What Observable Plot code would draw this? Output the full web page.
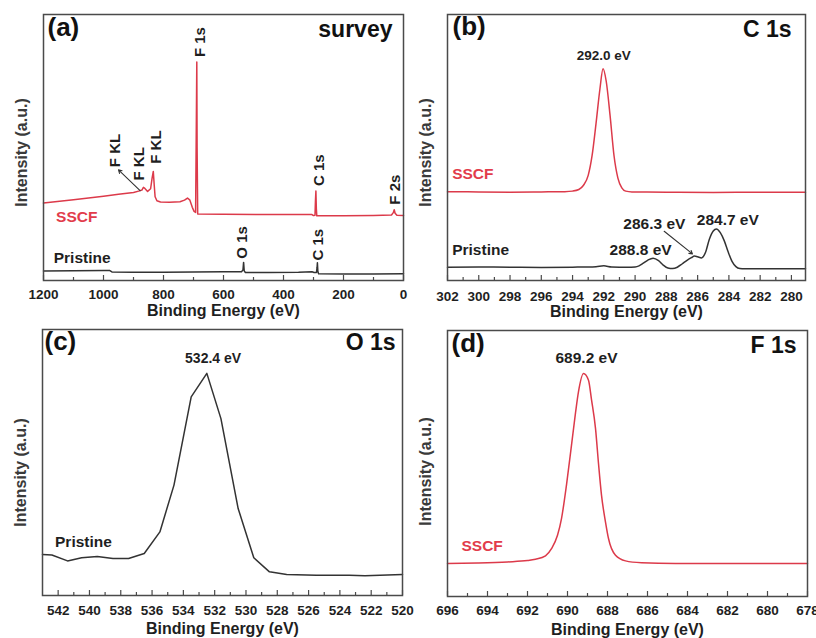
<!DOCTYPE html>
<html>
<head>
<meta charset="utf-8">
<script src="https://cdn.jsdelivr.net/npm/d3@7"></script>
<script src="https://cdn.jsdelivr.net/npm/@observablehq/plot@0.6"></script>
<style>
  html, body { margin: 0; padding: 0; background: #fff; }
  #wrap { position: relative; width: 816px; height: 638px; overflow: hidden; background: #fff; }
  #wrap svg { position: absolute; }
</style>
</head>
<body>
<div id="wrap"></div>
<script>
// ---------- DATA (binding energy eV, relative intensity 0-100 of panel height) ----------
// (a) survey
const surveySSCF = [[1200,29.1],[1100,30.4],[1000,31.7],[950,32.4],[900,33.1],[880,33.7],[872,34.0],[867,35.0],[862,34.6],[853,33.5],[843,34.5],[838,38.5],[834,41.0],[831,36.0],[828,31.5],[822,30.0],[810,29.5],[780,29.4],[745,29.6],[730,30.2],[720,31.0],[712,30.2],[704,27.5],[698,26.0],[693,25.6],[690.5,60],[689,82.1],[688,50],[686,25.0],[600,24.9],[400,24.8],[305,24.8],[300,24.4],[295,24.5],[293.5,30],[292,33.6],[290.5,27],[289,24.3],[200,24.3],[100,24.4],[40,24.6],[34,25.5],[31,26.6],[28,25.3],[22,24.5],[0,24.4]];
const surveyPristine = [[1200,3.6],[1100,3.7],[1000,3.8],[980,3.8],[972,3.2],[900,3.1],[800,3.1],[700,3.2],[600,3.3],[540,3.3],[535,4.0],[533,6.8],[531,3.6],[527,3.0],[450,3.0],[350,3.1],[305,3.3],[298,3.0],[290,3.0],[288,5.0],[287,6.7],[285.5,3.5],[283,2.5],[200,2.4],[100,2.4],[0,2.5]];
const surveyMajor = [1200,1000,800,600,400,200,0];
const surveyMinor = [1100,900,700,500,300,100];
const surveyPeakLabels = [
  {e:689, y:84, t:"F 1s", dx:3},
  {e:292, y:35.5, t:"C 1s", dx:3},
  {e:31, y:28.5, t:"F 2s", dx:1},
  {e:533, y:8.2, t:"O 1s", dx:-1},
  {e:287, y:7.5, t:"C 1s", dx:1},
  {e:960, y:42.6, t:"F KL", dx:0},
  {e:880, y:37.6, t:"F KL", dx:0},
  {e:824, y:43.9, t:"F KL", dx:0}
];
const surveyArrow = [{e1:878, y1:33.8, e2:950, y2:41.6}];

// (b) C 1s
const c1sSSCF = [[302,33.4],[300,33.3],[298,33.2],[296,33.3],[294.5,33.4],[294,33.6],[293.6,34.2],[293.3,35.8],[293.0,39.5],[292.75,47],[292.5,59],[292.25,72],[292.05,79.6],[291.85,75],[291.6,62],[291.35,47],[291.1,38.5],[290.85,34.8],[290.6,33.6],[290.2,33.3],[288,33.2],[285,33.1],[282,33.2],[279.1,33.2]];
const c1sPristine = [[302,5.0],[300,5.1],[298,5.0],[296,4.9],[294,5.0],[292.5,5.2],[292.0,5.5],[291.5,5.1],[290.5,5.0],[290.0,5.1],[289.75,5.5],[289.5,6.4],[289.2,7.6],[288.85,8.4],[288.5,7.5],[288.2,5.8],[287.9,4.7],[287.6,4.5],[287.3,5.0],[287.0,6.2],[286.7,7.5],[286.4,8.6],[286.2,9.2],[286.0,8.9],[285.75,8.5],[285.5,10.5],[285.25,15.5],[285.0,18.6],[284.8,19.4],[284.55,18.0],[284.3,15.0],[284.05,10.8],[283.8,7.2],[283.55,5.2],[283.3,4.5],[283.0,4.4],[281,4.4],[279.1,4.4]];
const c1sMajor = [302,300,298,296,294,292,290,288,286,284,282,280];
const c1sMinor = [301,299,297,295,293,291,289,287,285,283,281];
const c1sPeakLabels = [
  {e:292.0, y:84.6, t:"292.0 eV", fs:13.5},
  {e:289.65, y:11.3, t:"288.8 eV", fs:15.5},
  {e:288.77, y:21.3, t:"286.3 eV", fs:15.5},
  {e:284.07, y:22.6, t:"284.7 eV", fs:15.5}
];
const c1sArrow = [{e1:288.14, y1:18.5, e2:286.33, y2:10.0}];

// (c) O 1s
const o1sPristine = [[543.0,15.4],[542.4,15.2],[541.4,13.0],[540.5,14.2],[539.5,14.7],[538.5,13.9],[537.5,13.9],[536.5,15.8],[535.5,23.9],[534.6,41.5],[533.5,74.7],[532.5,83.5],[531.6,66.5],[530.5,32.7],[529.5,14.2],[528.5,8.9],[527.4,7.9],[525.5,7.6],[523.4,7.6],[522.4,7.4],[520,7.9]];
const o1sMajor = [542,540,538,536,534,532,530,528,526,524,522,520];
const o1sMinor = [541,539,537,535,533,531,529,527,525,523,521];
const o1sPeakLabels = [{e:532.1, y:89.1, t:"532.4 eV", fs:14}];

// (d) F 1s
const f1sSSCF = [[696,12.4],[694.5,12.6],[693,13.0],[692,13.5],[691.6,14.0],[691.1,15.3],[690.8,18.0],[690.5,23],[690.3,29.3],[690.05,42],[689.8,56.9],[689.6,69],[689.45,77.0],[689.2,83.8],[688.95,81.3],[688.8,74],[688.6,63.2],[688.45,50],[688.3,38.1],[688.1,28],[687.95,21.8],[687.6,15.5],[687.1,13.4],[686.3,12.7],[684.6,12.4],[678,12.4]];
const f1sMajor = [696,694,692,690,688,686,684,682,680,678];
const f1sMinor = [695,693,691,689,687,685,683,681,679];
const f1sPeakLabels = [{e:689.05, y:89.8, t:"689.2 eV", fs:15.5}];

// ---------- STYLE ----------
const FONT = "'Liberation Sans', Arial, Helvetica, sans-serif";
const RED = "#dc3a4a", BLACK = "#333333", FRAME = "#4a4a4a", TEXT = "#1f1f1f", RED_TEXT = "#e23c4b";

const wrap = document.getElementById("wrap");

function makePanel(c) {
  const plotH = c.height - c.mT - c.mB;
  const bold = {fontWeight: "bold", fontFamily: FONT};
  const marks = [
    Plot.tickX(c.minor, {x: d => d, stroke: FRAME, strokeWidth: 1.2, insetTop: plotH - 3}),
    Plot.tickX(c.major, {x: d => d, stroke: FRAME, strokeWidth: 1.2, insetTop: plotH - 5}),
    ...c.lines.map(([data, color]) => Plot.line(data, {x: d => d[0], y: d => d[1], stroke: color, strokeWidth: 1.5, curve: c.curve})),
    Plot.frame({stroke: FRAME, strokeWidth: 1.5}),
    Plot.text(c.major, {x: d => d, frameAnchor: "bottom", lineAnchor: "middle", dy: c.tickDy, text: d => String(d), fontSize: 13.5, fill: TEXT, ...bold}),
    Plot.text(["Binding Energy (eV)"], {frameAnchor: "bottom", lineAnchor: "middle", dy: c.titleDy, text: d => d, fontSize: 16, fill: TEXT, ...bold}),
    Plot.text(["Intensity (a.u.)"], {frameAnchor: "left", rotate: -90, textAnchor: "middle", lineAnchor: "middle", dx: -22, dy: c.ylabDy, text: d => d, fontSize: 16, fill: "#3a3a3a", ...bold}),
    Plot.text([c.letter], {frameAnchor: "top-left", textAnchor: "start", lineAnchor: "top", dx: c.letterDx, dy: c.letterDy, text: d => d, fontSize: 26, fill: "#111", ...bold}),
    Plot.text([c.name], {frameAnchor: "top-right", textAnchor: "end", lineAnchor: "top", dx: c.nameDx, dy: c.nameDy, text: d => d, fontSize: 23, fill: "#111", ...bold}),
    Plot.text(c.samples, {x: "e", y: "y", text: "t", fill: "c", textAnchor: "start", lineAnchor: "middle", fontSize: 15.5, ...bold})
  ];
  if (c.peaks) marks.push(Plot.text(c.peaks, {x: "e", y: "y", text: "t", fontSize: d => d.fs, textAnchor: "middle", lineAnchor: "middle", fill: TEXT, ...bold}));
  if (c.rotPeaks) marks.push(...c.rotPeaks.map(p => Plot.text([p], {x: "e", y: "y", text: "t", rotate: -90, textAnchor: "start", lineAnchor: "middle", dx: p.dx, fontSize: 15, fill: TEXT, ...bold})));
  if (c.arrows) marks.push(Plot.arrow(c.arrows, {x1: "e1", y1: "y1", x2: "e2", y2: "y2", stroke: "#333", strokeWidth: 1.1, headLength: 5}));
  const svg = Plot.plot({
    width: c.width, height: c.height,
    marginLeft: c.mL, marginRight: c.mR, marginTop: c.mT, marginBottom: c.mB,
    x: {domain: c.domain, axis: null},
    y: {domain: [0, 100], axis: null},
    style: {background: "transparent", overflow: c.overflow || "hidden", fontFamily: FONT},
    marks
  });
  svg.style.left = c.left + "px";
  svg.style.top = c.top + "px";
  wrap.appendChild(svg);
}

makePanel({
  left: 0, top: 0, width: 410, height: 320, mL: 43, mR: 7, mT: 14, mB: 40,
  domain: [1200, 0], major: surveyMajor, minor: surveyMinor, curve: "linear",
  lines: [[surveyPristine, BLACK], [surveySSCF, RED]],
  tickDy: 14, titleDy: 30, ylabDy: 5,
  letter: "(a)", letterDx: 4, letterDy: 3, name: "survey", nameDx: -11, nameDy: 6,
  samples: [{e: 1158, y: 23.8, t: "SSCF", c: RED_TEXT}, {e: 1166, y: 8.5, t: "Pristine", c: TEXT}],
  rotPeaks: surveyPeakLabels, arrows: surveyArrow
});

makePanel({
  left: 408, top: 0, width: 408, height: 320, mL: 39, mR: 11, mT: 14, mB: 40,
  domain: [302, 279.1], major: c1sMajor, minor: c1sMinor, curve: "monotone-x",
  lines: [[c1sPristine, BLACK], [c1sSSCF, RED]], overflow: "visible",
  tickDy: 16, titleDy: 31.5, ylabDy: 5,
  letter: "(b)", letterDx: 5, letterDy: 2, name: "C 1s", nameDx: -14, nameDy: 6,
  samples: [{e: 301.7, y: 40.1, t: "SSCF", c: RED_TEXT}, {e: 301.7, y: 11.3, t: "Pristine", c: TEXT}],
  peaks: c1sPeakLabels, arrows: c1sArrow
});

makePanel({
  left: 0, top: 318, width: 410, height: 320, mL: 42, mR: 8, mT: 11, mB: 43,
  domain: [543, 520], major: o1sMajor, minor: o1sMinor, curve: "linear",
  lines: [[o1sPristine, BLACK]], overflow: "visible",
  tickDy: 15, titleDy: 33, ylabDy: 10,
  letter: "(c)", letterDx: 2, letterDy: 2, name: "O 1s", nameDx: -7, nameDy: 4.5,
  samples: [{e: 542.2, y: 20.2, t: "Pristine", c: TEXT}],
  peaks: o1sPeakLabels
});

makePanel({
  left: 408, top: 318, width: 408, height: 320, mL: 39, mR: 9, mT: 12, mB: 42,
  domain: [696, 678], major: f1sMajor, minor: f1sMinor, curve: "monotone-x",
  lines: [[f1sSSCF, RED]],
  tickDy: 14, titleDy: 33, ylabDy: 8,
  letter: "(d)", letterDx: 4, letterDy: 3, name: "F 1s", nameDx: -11, nameDy: 6,
  samples: [{e: 695.3, y: 19.0, t: "SSCF", c: RED_TEXT}],
  peaks: f1sPeakLabels
});
</script>
</body>
</html>
